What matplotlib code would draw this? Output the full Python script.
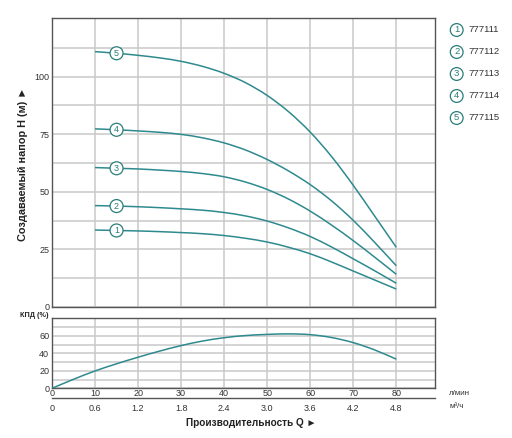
import numpy as np
import matplotlib
matplotlib.use("Agg")
import matplotlib.pyplot as plt
from matplotlib.path import Path
from matplotlib.patches import PathPatch

plt.rcParams['font.family'] = ['Liberation Sans', 'DejaVu Sans']

# ---- data ----
q = [10, 15, 20, 25, 30, 35, 40, 45, 50, 55, 60, 65, 70, 75, 80]
h1 = [33.4, 33.2, 33.0, 32.7, 32.3, 31.8, 31.0, 29.8, 28.2, 25.9, 23.1, 19.5, 15.6, 11.7, 7.8]
h2 = [44.0, 43.8, 43.5, 43.1, 42.6, 42.0, 41.0, 39.5, 37.3, 34.3, 30.6, 26.0, 20.9, 15.7, 10.3]
h3 = [60.5, 60.2, 59.9, 59.4, 58.8, 57.9, 56.5, 54.2, 51.0, 46.8, 41.6, 35.5, 28.8, 21.6, 14.2]
h4 = [77.3, 76.9, 76.4, 75.8, 74.9, 73.4, 71.2, 68.1, 64.0, 59.0, 53.1, 46.0, 37.6, 28.0, 17.9]
h5 = [110.8, 110.1, 109.2, 108.1, 106.6, 104.4, 101.4, 97.3, 91.8, 84.7, 75.9, 65.2, 52.8, 39.4, 25.9]
curves = [h1, h2, h3, h4, h5]
labels = ['1', '2', '3', '4', '5']
models = ['777111', '777112', '777113', '777114', '777115']

q_eff = [0, 5, 10, 15, 20, 25, 30, 35, 40, 45, 50, 55, 60, 65, 70, 75, 80]
eff = [0, 10.3, 19.8, 28.0, 35.5, 42.5, 48.8, 54.0, 57.8, 60.3, 61.6, 62.2, 61.3, 58.0, 52.2, 43.8, 33.3]

x_ticks = [0, 10, 20, 30, 40, 50, 60, 70, 80]
m3h_labels = ['0', '0.6', '1.2', '1.8', '2.4', '3.0', '3.6', '4.2', '4.8']
h_ticks = [0, 25, 50, 75, 100]
eff_ticks = [0, 20, 40, 60]
marker_q = 15

# ---- style ----
LINE = '#2e8a8e'
MARK = '#2a7d78'
GRID = '#c9c9c9'
SPINE = '#555555'
TXT = '#333333'
W, H = 512, 438

fig = plt.figure(figsize=(W / 100, H / 100), dpi=100)


def box(l, t, r, b):
    return [l / W, 1 - b / H, (r - l) / W, (b - t) / H]


def smooth_line(ax, xs, ys, **kw):
    """Draw a smooth curve through the data points using cubic Bezier
    segments (Catmull-Rom tangents) as a matplotlib Path."""
    xs = np.asarray(xs, float)
    ys = np.asarray(ys, float)
    n = len(xs)
    verts = [(xs[0], ys[0])]
    codes = [Path.MOVETO]
    for i in range(n - 1):
        i0 = max(i - 1, 0)
        i3 = min(i + 2, n - 1)
        c1 = (xs[i] + (xs[i + 1] - xs[i0]) / 6, ys[i] + (ys[i + 1] - ys[i0]) / 6)
        c2 = (xs[i + 1] - (xs[i3] - xs[i]) / 6, ys[i + 1] - (ys[i3] - ys[i]) / 6)
        verts += [c1, c2, (xs[i + 1], ys[i + 1])]
        codes += [Path.CURVE4] * 3
    ax.add_patch(PathPatch(Path(verts, codes), fill=False, **kw))


ax1 = fig.add_axes(box(52, 18, 435, 307))
ax2 = fig.add_axes(box(52, 318.3, 435, 388.3))

for ax in (ax1, ax2):
    ax.set_xlim(0, 89)
    ax.set_xticks(x_ticks)
    for s in ax.spines.values():
        s.set_color(SPINE)
        s.set_linewidth(1.0)
    ax.grid(True, which='both', color=GRID, linewidth=1.1)
    ax.set_axisbelow(True)
    ax.tick_params(axis='y', length=0, pad=2, labelsize=6.5, labelcolor=TXT)

ax1.set_ylim(0, 125.4)
ax1.set_yticks(h_ticks)
ax1.set_yticks(np.arange(0, 125, 12.5), minor=True)
ax1.tick_params(axis='y', which='minor', length=0)
ax1.tick_params(axis='x', length=0, labelbottom=False)

for h, lab in zip(curves, labels):
    smooth_line(ax1, q, h, edgecolor=LINE, linewidth=1.1, zorder=3)
    ym = np.interp(marker_q, q, h)
    ax1.text(marker_q, ym, lab, ha='center', va='center', fontsize=6.5,
             color=MARK, zorder=5,
             bbox=dict(boxstyle='circle,pad=0.22', fc='white', ec=MARK, lw=0.9))

ax2.set_ylim(0, 80)
ax2.set_yticks(eff_ticks)
ax2.set_yticks(np.arange(0, 81, 10), minor=True)
ax2.tick_params(axis='y', which='minor', length=0)
ax2.tick_params(axis='x', length=0, pad=0.5, labelsize=6.5, labelcolor=TXT)
smooth_line(ax2, q_eff, eff, edgecolor=LINE, linewidth=1.1, zorder=3)

sec = ax2.secondary_xaxis(-(398 - 388.3) / 70.0)
sec.set_xticks(x_ticks, m3h_labels)
sec.spines['bottom'].set_color(SPINE)
sec.spines['bottom'].set_linewidth(1.0)
sec.tick_params(axis='x', length=0, pad=4, labelsize=6.5, labelcolor=TXT)

# ---- texts ----
fig.text(23 / W, 1 - 164 / H, 'Создаваемый напор H (м) ►', rotation=90,
         ha='center', va='center', fontsize=7.8, fontweight='bold', color='#222222')
fig.text(49 / W, 1 - 315.5 / H, 'КПД (%)', ha='right', va='center',
         fontsize=5.2, fontweight='bold', color='#222222')
fig.text(251 / W, 1 - 422.5 / H, 'Производительность Q ►', ha='center', va='center',
         fontsize=7.2, fontweight='bold', color='#222222')
fig.text(449 / W, 1 - 393.5 / H, 'л/мин', ha='left', va='center', fontsize=5.8, color=TXT)
fig.text(449 / W, 1 - 407 / H, 'м³/ч', ha='left', va='center', fontsize=5.8, color=TXT)

for i, (lab, m) in enumerate(zip(labels, models)):
    y = 30 + i * 22
    fig.text(456.7 / W, 1 - y / H, lab, ha='center', va='center', fontsize=6.8, color=MARK,
             bbox=dict(boxstyle='circle,pad=0.2', fc='white', ec=MARK, lw=0.9))
    fig.text(468 / W, 1 - y / H, m, ha='left', va='center', fontsize=6.8, color=TXT)

fig.savefig('out.png', dpi=100)
